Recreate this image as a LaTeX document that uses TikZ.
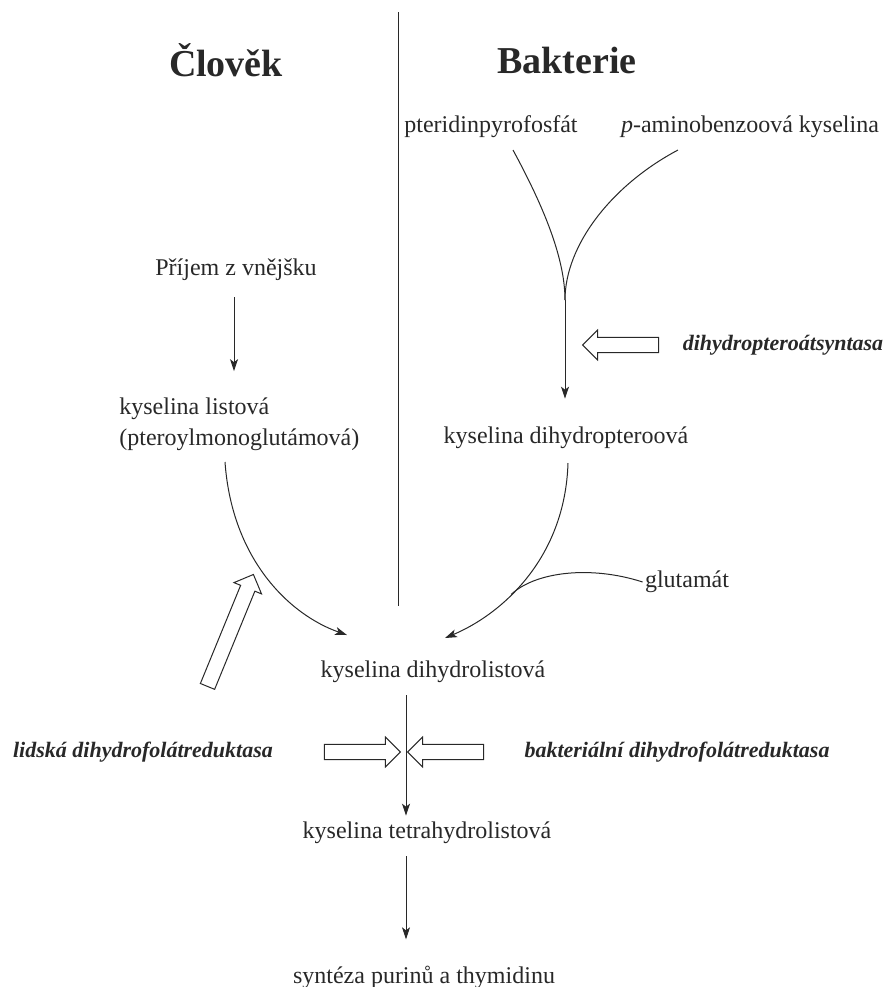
\documentclass[tikz,border=0pt]{standalone}
\usepackage{fontspec}
\setmainfont{Liberation Serif}
\usepackage{tikz}
\usetikzlibrary{arrows.meta, shapes.arrows}
\definecolor{ink}{RGB}{40,40,40}

\begin{document}
\begin{tikzpicture}[
        x=0.5pt, y=-0.5pt,
        txt/.style={
            font=\fontsize{12}{15.5}\selectfont,
            text=ink,
            inner sep=1pt
        },
        heading/.style={
            font=\fontsize{19}{22}\selectfont\bfseries,
            text=ink
        },
        enzyme/.style={
            font=\fontsize{11}{13}\selectfont\bfseries\itshape,
            text=ink
        },
        arrow/.style={
            -{Stealth[length=6pt, width=4pt, inset=1.5pt]},
            draw=ink,
            line width=0.5pt
        },
        line/.style={
            draw=ink,
            line width=0.5pt
        },
        hollow/.style={
            single arrow,
            draw=ink,
            line width=0.5pt,
            fill=white,
            inner xsep=0pt,
            inner ysep=3.6pt,
            minimum width=0pt,
            minimum height=38pt,
            single arrow head extend=3.6pt,
            single arrow tip angle=90
        }
    ]
        \useasboundingbox (0,0) rectangle (891,987);

        % hlavicky a deliciara
        \node (clovek) [heading] at (226,60) {Člověk};
        \node (bakterie) [heading] at (567,60) {Bakterie};
        \coordinate (divtop) at (398,12);
        \coordinate (divbot) at (398,606);
        \draw [line] (divtop) -- (divbot);

        % clovek
        \node (prijem) [txt] at (236,270) {Příjem z vnějšku};
        \node (listova) [txt, align=left, anchor=west] at (117,424) {kyselina listová\\(pteroylmonoglutámová)};

        % bakterie
        \node (pter) [txt] at (491,127) {pteridinpyrofosfát};
        \node (paba) [txt] at (750,127) {\textit{p}-aminobenzoová kyselina};
        \node (dhpt) [txt] at (566,438) {kyselina dihydropteroová};
        \node (dhps) [enzyme] at (783,345) {dihydropteroátsyntasa};
        \node (glut) [txt] at (687,582) {glutamát};

        % spolecna cast
        \node (dhf) [txt] at (433,672) {kyselina dihydrolistová};
        \node (thf) [txt] at (427,833) {kyselina tetrahydrolistová};
        \node (synt) [txt] at (424,977) {syntéza purinů a thymidinu};
        \node (lidska) [enzyme] at (143,752) {lidská dihydrofolátreduktasa};
        \node (bakterialni) [enzyme] at (677,752) {bakteriální dihydrofolátreduktasa};

        % body krivek
        \coordinate (axis) at (406,0);
        \coordinate (pterout) at (513,150);
        \coordinate (pabaout) at (678,150);
        \coordinate (meet) at (565,300);
        \coordinate (listout) at (225,462);
        \coordinate (listin) at (347,635);
        \coordinate (dhptout) at (568,463);
        \coordinate (dhptin) at (445,638);

        % sipky
        \draw [arrow, shorten <=7pt, shorten >=12pt] (prijem.south -| 234,0) -- (listova.north -| 234,0);
        \draw [line] (pterout) .. controls (540,200) and (565,255) .. (meet);
        \draw [line] (pabaout) .. controls (612,185) and (565,245) .. (meet);
        \draw [arrow, shorten >=13pt] (meet) -- (dhpt.north -| meet);
        \draw [arrow] (listout) .. controls (232,560) and (290,615) .. (listin);
        \draw [arrow] (dhptout) .. controls (565,560) and (500,615) .. coordinate[pos=0.6] (gjoin) (dhptin);
        \draw [line] (glut.west) .. controls (590,565) and (535,572) .. (gjoin);
        \draw [arrow, shorten <=5pt, shorten >=2pt] (dhf.south -| axis) -- (thf.north -| axis);
        \draw [arrow, shorten <=5pt, shorten >=12pt] (thf.south -| axis) -- (synt.north -| axis);

        % enzymy
        \node (dhpsarr) [hollow, rotate=180] at (624.5,345) {};
        \node (lidarr) [hollow] at (358.5,752) {};
        \node (bakarr) [hollow, rotate=180] at (449.5,752) {};
        \node (lidup) [hollow, minimum height=60.5pt, rotate=67.7] at (229,634) {};
    \end{tikzpicture}
\end{document}
